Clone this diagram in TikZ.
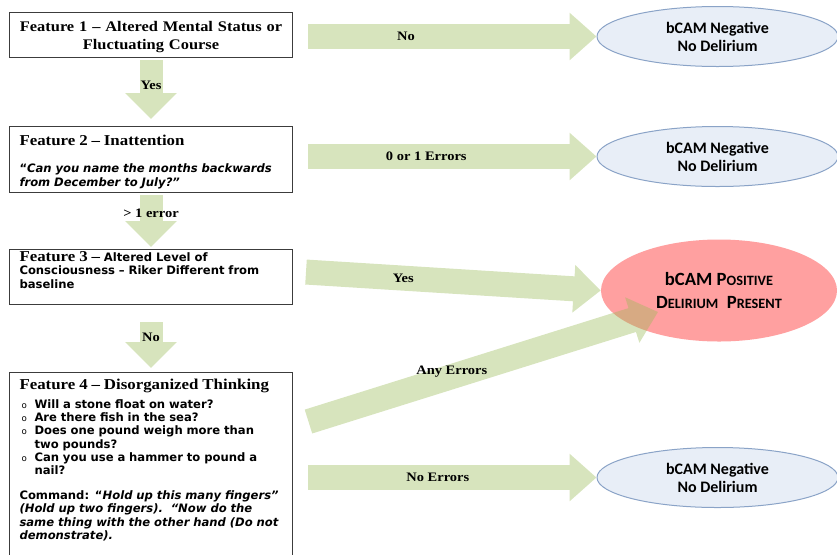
\documentclass[tikz,border=0pt]{standalone}
\usepackage{fontspec}
\newfontfamily\verdana{DejaVu Sans}
\newfontfamily\calibri{Carlito}
\newfontfamily\cambria{Liberation Serif}[FakeStretch=1.12]
\usetikzlibrary{positioning,calc,shapes,arrows.meta}

\definecolor{olivegreen}{RGB}{155,187,89}
\definecolor{negfill}{RGB}{232,238,247}
\definecolor{negline}{RGB}{138,163,199}
\definecolor{posfill}{RGB}{255,160,160}
\definecolor{boxline}{RGB}{60,60,60}

\newcommand{\headfont}[2][13.5]{\cambria\fontsize{#2}{#1}\selectfont\bfseries\upshape}
\newcommand{\smcap}[1]{{\fontsize{10.7}{12}\selectfont #1}}
\newcommand{\qbullet}{\makebox[11.25pt][l]{\hspace{1.5pt}\mdseries\fontsize{6.5}{6}\selectfont o}}

\tikzset{
    bcam/.style={x=0.75pt, y=-0.75pt},
    % riquadri delle feature
    feature/.style={draw=boxline, line width=0.75pt, rectangle,
                    text width=197.25pt, inner xsep=7.5pt, inner ysep=0pt,
                    align=left, font=\verdana\bfseries\fontsize{8.7}{10}\selectfont},
    % esiti (ellissi)
    negative/.style={draw=negline, fill=negfill, ellipse, line width=0.75pt,
                     minimum width=180.75pt, minimum height=45pt, inner sep=0pt,
                     align=center, font=\calibri\bfseries\fontsize{12}{13.5}\selectfont},
    positive/.style={fill=posfill, ellipse, minimum width=177pt, minimum height=76.5pt,
                     inner sep=0pt, align=center,
                     font=\calibri\bfseries\fontsize{14}{17.25}\selectfont},
    % frecce piene
    bigarrow/.style={olivegreen!40, line width=18.75pt,
                     -{Triangle[length=20.25pt,width=34.5pt]}},
    downarrow/.style={olivegreen!40, line width=17.25pt,
                      -{Triangle[length=19.5pt,width=37.5pt]}},
    answer/.style={text=black, inner sep=0pt,
                   font=\cambria\bfseries\fontsize{9.7}{11}\selectfont}
}

\begin{document}
\begin{tikzpicture}[bcam]
\useasboundingbox (0,0) rectangle (837,554);

\node[feature, anchor=north west, align=center, font=\headfont{11},
      text height=14.25pt, text depth=19.5pt] (f1) at (9,12)
      {Feature 1 – Altered Mental Status or\\ Fluctuating Course};
\node[feature, below=51pt of f1, text height=14.25pt, text depth=35.25pt] (f2)
      {{\headfont{11.3}Feature 2 – Inattention}\\[10.5pt]
       “\itshape Can you name the months backwards\\
       from December to July?”};
\node[feature, below=42pt of f2, text height=9pt, text depth=32.3pt] (f3)
      {{\headfont{11.3}Feature 3 –} Altered Level of\\
       Consciousness – Riker Different from\\
       baseline};
\node[feature, below=50.25pt of f3, text height=12.75pt, text depth=130.5pt] (f4)
      {{\headfont{11.3}Feature 4 – Disorganized Thinking}\\[4pt]
       \qbullet Will a stone float on water?\\
       \qbullet Are there fish in the sea?\\
       \qbullet Does one pound weigh more than\\
       \hspace*{11.25pt}two pounds?\\
       \qbullet Can you use a hammer to pound a\\
       \hspace*{11.25pt}nail?\\[8.5pt]
       Command: “\itshape Hold up this many fingers”\\
       (Hold up two fingers).\ \ “Now do the\\
       same thing with the other hand (Do not\\
       demonstrate).};

\node[negative] (neg1) at (717.5,36.5) {bCAM Negative\\No Delirium};
\node[negative] (neg2) at (717.5,156.5) {bCAM Negative\\No Delirium};
\node[positive] (pos) at (719,290.5)
      {bCAM P\smcap{OSITIVE}\\D\smcap{ELIRIUM}\ \ P\smcap{RESENT}};
\node[negative] (neg3) at (717.5,477.5) {bCAM Negative\\No Delirium};

\draw[downarrow] ([yshift=-1.5pt]f1.south) -- ([yshift=5.25pt]f2.north)
      node[answer, pos=0.43] {Yes};
\draw[downarrow] ([yshift=-1.5pt]f2.south) -- ([yshift=1.5pt]f3.north)
      node[answer, pos=0.35] {> 1 error};
\draw[downarrow] ([yshift=-12.75pt]f3.south) -- ([yshift=3pt]f4.north)
      node[answer, pos=0.34] {No};

\draw[bigarrow] ($(f1.east |- neg1.west)+(11.25pt,0)$) -- (neg1.west)
      node[answer, pos=0.34] {No};
\draw[bigarrow] ($(f2.east |- neg2.west)+(11.25pt,0)$) -- (neg2.west)
      node[answer, pos=0.41] {0 or 1 Errors};
\draw[bigarrow] ([xshift=9.75pt,yshift=3.75pt]f3.east) -- (pos.west)
      node[answer, pos=0.33] {Yes};
\draw[bigarrow] ($(f4.east |- neg3.west)+(11.25pt,0)$) -- (neg3.west)
      node[answer, pos=0.45] {No Errors};

% Any Errors: sopra l'ellisse rossa, trasparente
\coordinate (anystart) at ([xshift=11.6pt,yshift=-37.1pt]f4.north east);
\coordinate (anytip) at ([xshift=-45.75pt,yshift=-16.1pt]pos.center);
\begin{scope}[transparency group, opacity=0.4]
  \draw[bigarrow, olivegreen] (anystart) -- (anytip);
\end{scope}
\path (anystart) -- (anytip) node[answer, pos=0.41, yshift=4pt] {Any Errors};
\end{tikzpicture}
\end{document}
